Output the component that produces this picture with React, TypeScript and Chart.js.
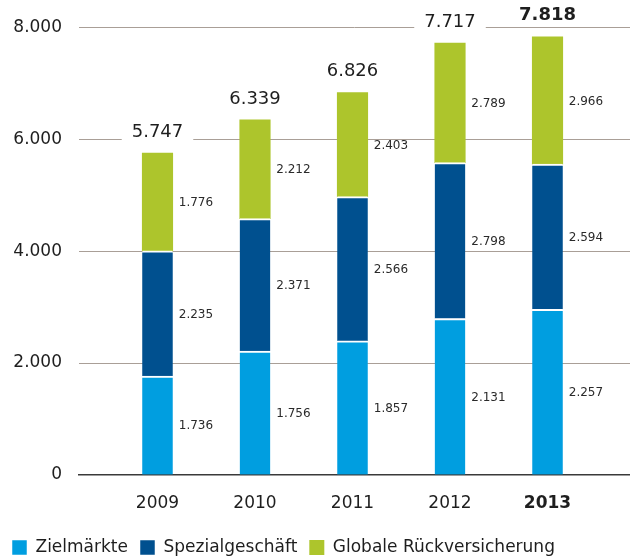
import React, { useEffect, useRef } from "react";
import { Chart, registerables } from "chart.js";

Chart.register(...registerables);

const years = ["2009", "2010", "2011", "2012", "2013"];
// bar segment heights as drawn in the picture
const zielmaerkteBar = [1769, 2216, 2395, 2794, 2961];
const spezialgeschaeftBar = [2235, 2365, 2579, 2788, 2592];
const globaleRueckBar = [1746, 1764, 1859, 2134, 2275];
// values printed next to the segments
const zielmaerkteLabel = [1736, 1756, 1857, 2131, 2257];
const spezialgeschaeftLabel = [2235, 2371, 2566, 2798, 2594];
const globaleRueckLabel = [1776, 2212, 2403, 2789, 2966];
const totals = [5747, 6339, 6826, 7717, 7818];
const yTicks = [0, 2000, 4000, 6000, 8000];

const FONT = "'DejaVu Sans', sans-serif";

function fmt(v: number): string {
  return String(Math.round(v)).replace(/\B(?=(\d{3})+(?!\d))/g, ".");
}

const labelPlugin = {
  id: "barLabels",
  afterDatasetsDraw(chart: any) {
    const ctx = chart.ctx;
    ctx.save();
    chart.data.datasets.forEach((ds: any, di: number) => {
      const meta = chart.getDatasetMeta(di);
      meta.data.forEach((el: any, j: number) => {
        const p = el.getProps(["x", "y", "base", "width"], true);
        ctx.font = `12px ${FONT}`;
        ctx.fillStyle = "#2a2a2a";
        ctx.textAlign = "left";
        ctx.textBaseline = "middle";
        ctx.fillText(fmt(ds.printed[j]), p.x + p.width / 2 + 6, (p.y + p.base) / 2 + 1);
      });
    });
    const last = chart.getDatasetMeta(chart.data.datasets.length - 1);
    last.data.forEach((el: any, j: number) => {
      const p = el.getProps(["x", "y"], true);
      const bold = j === years.length - 1;
      ctx.font = `${bold ? "bold " : ""}18px ${FONT}`;
      const txt = fmt(totals[j]);
      const w = ctx.measureText(txt).width;
      const cy = p.y - 21;
      ctx.fillStyle = "#ffffff";
      ctx.fillRect(p.x - w / 2 - 10, cy - 11, w + 20, 22);
      ctx.fillStyle = "#1e1e1e";
      ctx.textAlign = "center";
      ctx.textBaseline = "middle";
      ctx.fillText(txt, p.x, cy);
    });
    ctx.restore();
  },
};

export default function App() {
  const ref = useRef<HTMLCanvasElement>(null);
  useEffect(() => {
    document.body.style.margin = "0";
    const toXY = (arr: number[]) => arr.map((v, i) => ({ x: i, y: v }));
    const chart = new Chart(ref.current!, {
      type: "bar",
      data: {
        datasets: [
          {
            label: "Zielmärkte",
            data: toXY(zielmaerkteBar),
            printed: zielmaerkteLabel,
            backgroundColor: "#009ee0",
            borderColor: "#ffffff",
            borderWidth: { top: 2, right: 0, bottom: 0, left: 0 },
            borderSkipped: false,
            barThickness: 30.5,
          },
          {
            label: "Spezialgeschäft",
            data: toXY(spezialgeschaeftBar),
            printed: spezialgeschaeftLabel,
            backgroundColor: "#00508f",
            borderColor: "#ffffff",
            borderWidth: { top: 2, right: 0, bottom: 0, left: 0 },
            borderSkipped: false,
            barThickness: 30.5,
          },
          {
            label: "Globale Rückversicherung",
            data: toXY(globaleRueckBar),
            printed: globaleRueckLabel,
            backgroundColor: "#adc52c",
            borderWidth: 0,
            barThickness: 30.5,
          },
        ] as any,
      },
      options: {
        animation: false,
        responsive: false,
        maintainAspectRatio: false,
        layout: { padding: { top: 26, left: 0, right: 0, bottom: -6 } },
        plugins: {
          tooltip: { enabled: false },
          legend: {
            position: "bottom",
            align: "start",
            labels: {
              boxWidth: 15,
              boxHeight: 15,
              padding: 12,
              color: "#1e1e1e",
              font: { family: FONT, size: 17 },
            },
          },
        },
        scales: {
          x: {
            type: "linear",
            stacked: true,
            offset: false,
            min: -0.805,
            max: 4.846,
            afterBuildTicks: (scale: any) => {
              scale.ticks = years.map((_, i) => ({ value: i }));
            },
            afterFit: (scale: any) => {
              scale.height = 52;
            },
            grid: { display: false, drawTicks: false },
            border: { display: true, color: "#3a3a3a", width: 1.5 },
            ticks: {
              padding: 18,
              color: "#1e1e1e",
              maxRotation: 0,
              autoSkip: false,
              callback: (v: any) => years[v as number] ?? "",
              font: (c: any) => ({
                family: FONT,
                size: 17,
                weight: c.tick && c.tick.value === years.length - 1 ? "bold" : "normal",
              }),
            },
          },
          y: {
            stacked: true,
            min: 0,
            max: 8000,
            afterBuildTicks: (scale: any) => {
              scale.ticks = yTicks.map((v) => ({ value: v }));
            },
            afterFit: (scale: any) => {
              scale.width = 79;
            },
            grid: {
              drawTicks: false,
              color: (c: any) => (c.tick && c.tick.value === 0 ? "rgba(0,0,0,0)" : "#a99f97"),
              lineWidth: 1,
            },
            border: { display: false },
            ticks: {
              padding: 17,
              color: "#1e1e1e",
              font: { family: FONT, size: 17 },
              callback: (v: any) => fmt(Number(v)),
            },
          },
        },
      } as any,
      plugins: [labelPlugin],
    });
    return () => chart.destroy();
  }, []);
  return <canvas ref={ref} width={630} height={560} style={{ display: "block" }} />;
}
